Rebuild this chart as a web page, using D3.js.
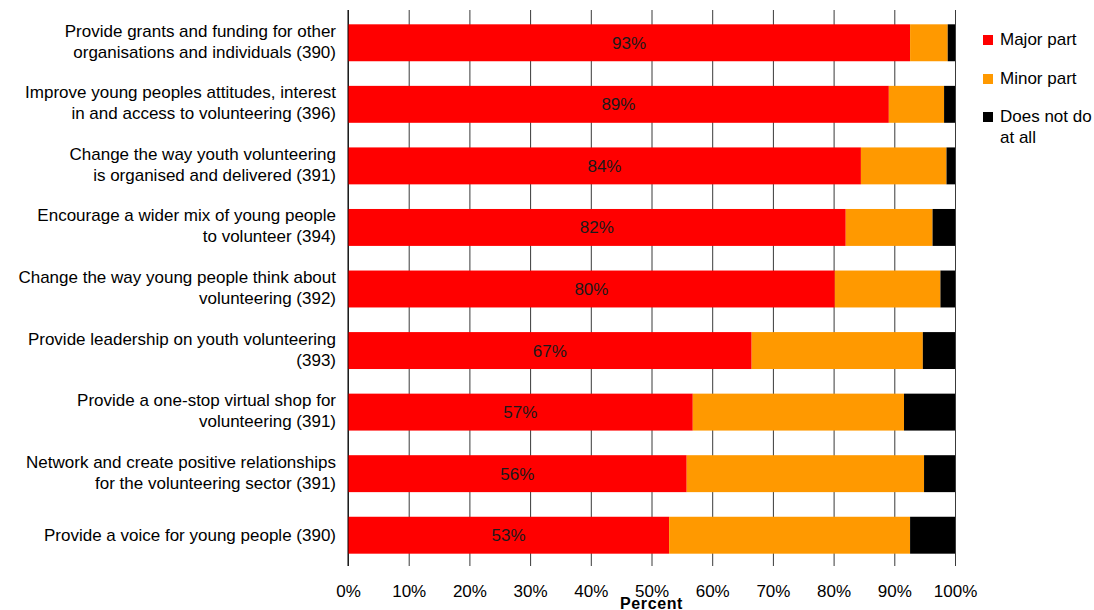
<!DOCTYPE html>
<html>
<head>
<meta charset="utf-8">
<script src="https://cdn.jsdelivr.net/npm/d3@7"></script>
<style>
  body { margin: 0; background: #fff; }
  svg { font-family: "Liberation Sans", Arial, sans-serif; }
</style>
</head>
<body>
<svg id="chart" width="1094" height="610"></svg>
<script>
const categories = [
  ["Provide grants and funding for other", "organisations and individuals (390)"],
  ["Improve young peoples attitudes, interest", "in and access to volunteering (396)"],
  ["Change the way youth volunteering", "is organised and delivered (391)"],
  ["Encourage a wider mix of young people", "to volunteer (394)"],
  ["Change the way young people think about", "volunteering (392)"],
  ["Provide leadership on youth volunteering", "(393)"],
  ["Provide a one-stop virtual shop for", "volunteering (391)"],
  ["Network and create positive relationships", "for the volunteering sector (391)"],
  ["Provide a voice for young people (390)"]
];
const majorPart = [92.6, 89.1, 84.5, 82.0, 80.2, 66.5, 56.8, 55.8, 52.9];
const minorPart = [6.2, 9.1, 14.1, 14.3, 17.4, 28.2, 34.8, 39.1, 39.7];
const doesNot = [1.2, 1.8, 1.4, 3.7, 2.4, 5.3, 8.4, 5.1, 7.4];
const majorLabels = ["93%", "89%", "84%", "82%", "80%", "67%", "57%", "56%", "53%"];
const seriesNames = ["Major part", "Minor part", "Does not do at all"];
const tickValues = [0, 10, 20, 30, 40, 50, 60, 70, 80, 90, 100];

const colors = ["#ff0000", "#ff9900", "#000000"];
const plotLeft = 348, plotRight = 955, plotTop = 12, plotBottom = 566;

const svg = d3.select("#chart");

const rows = categories.map((c, i) => ({
  idx: i,
  major: majorPart[i],
  minor: minorPart[i],
  none: doesNot[i]
}));

const xScale = d3.scaleLinear().domain([0, 100]).range([plotLeft, plotRight]);
const yScale = d3
  .scaleBand()
  .domain(d3.range(categories.length))
  .range([plotTop, plotBottom])
  .paddingInner(0.4)
  .paddingOuter(0.2);

// grid + tick labels
const xAxis = d3
  .axisBottom(xScale)
  .tickValues(tickValues)
  .tickSizeInner(-(plotBottom - 10))
  .tickSizeOuter(0)
  .tickFormat((d) => d + "%");

const gx = svg
  .append("g")
  .attr("transform", `translate(0, ${plotBottom})`)
  .call(xAxis);
gx.select(".domain").remove();
gx.selectAll(".tick line").attr("stroke", "#3a3a3a").attr("stroke-width", 1);
gx.selectAll(".tick text")
  .attr("y", 31)
  .attr("dy", null)
  .attr("font-size", 17)
  .attr("font-family", "Liberation Sans, Arial, sans-serif")
  .attr("fill", "#000");

svg
  .append("text")
  .attr("x", (plotLeft + plotRight) / 2)
  .attr("y", 609)
  .attr("text-anchor", "middle")
  .attr("font-size", 16)
  .attr("font-weight", "bold")
  .attr("letter-spacing", 0.6)
  .text("Percent");

// stacked bars
const stack = d3.stack().keys(["major", "minor", "none"]);
const layers = stack(rows);

svg
  .append("g")
  .selectAll("g")
  .data(layers)
  .join("g")
  .attr("fill", (d, i) => colors[i])
  .selectAll("rect")
  .data((d) => d)
  .join("rect")
  .attr("x", (d) => xScale(d[0]))
  .attr("y", (d) => yScale(d.data.idx))
  .attr("width", (d) => xScale(d[1]) - xScale(d[0]))
  .attr("height", yScale.bandwidth());

// left axis line
svg
  .append("line")
  .attr("x1", xScale(0))
  .attr("x2", xScale(0))
  .attr("y1", 10)
  .attr("y2", plotBottom)
  .attr("stroke", "#000");

// value labels
svg
  .append("g")
  .selectAll("text")
  .data(rows)
  .join("text")
  .attr("x", (d) => (xScale(0) + xScale(d.major)) / 2)
  .attr("y", (d) => yScale(d.idx) + yScale.bandwidth() / 2 + 6)
  .attr("text-anchor", "middle")
  .attr("font-size", 17)
  .attr("fill", "#1a1a1a")
  .text((d, i) => majorLabels[i]);

// category labels
const catG = svg
  .append("g")
  .selectAll("text")
  .data(categories)
  .join("text")
  .attr("text-anchor", "end")
  .attr("font-size", 17)
  .attr("fill", "#000")
  .attr("transform", (d, i) => {
    const cy = yScale(i) + yScale.bandwidth() / 2;
    return `translate(336, ${d.length > 1 ? cy - 6 : cy + 6})`;
  });
catG
  .selectAll("tspan")
  .data((d) => d)
  .join("tspan")
  .attr("x", 0)
  .attr("y", (d, j) => j * 21)
  .text((d) => d);

// legend
const legendY = [35, 74, 112];
const legend = svg
  .append("g")
  .selectAll("g")
  .data(seriesNames)
  .join("g")
  .attr("transform", (d, i) => `translate(983, ${legendY[i]})`);
legend
  .append("rect")
  .attr("width", 10)
  .attr("height", 10)
  .attr("fill", (d, i) => colors[i]);
const legendText = legend
  .append("text")
  .attr("x", 17)
  .attr("y", 10)
  .attr("font-size", 17)
  .attr("fill", "#000");
legendText
  .selectAll("tspan")
  .data((d) => (d === "Does not do at all" ? ["Does not do", "at all"] : [d]))
  .join("tspan")
  .attr("x", 17)
  .attr("dy", (d, j) => (j === 0 ? 0 : 21))
  .text((d) => d);
</script>
</body>
</html>
